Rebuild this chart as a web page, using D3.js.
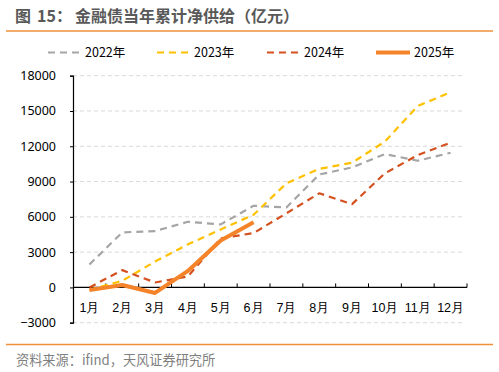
<!DOCTYPE html>
<html><head><meta charset="utf-8">
<script src="https://cdn.jsdelivr.net/npm/d3@7/dist/d3.min.js"></script>
<style>
body{margin:0;background:#fff;}
svg{display:block;font-family:"Noto Sans CJK SC","Noto Sans",sans-serif;}
</style></head><body>
<script>
const months = ["1月","2月","3月","4月","5月","6月","7月","8月","9月","10月","11月","12月"];
const seriesNames = ["2022年","2023年","2024年","2025年"];
const v2022 = [1950,4680,4790,5580,5360,6940,6800,9600,10200,11340,10770,11450];
const v2023 = [-200,560,2200,3660,4930,6180,8850,10080,10600,12400,15420,16600];
const v2024 = [0,1470,420,930,4170,4620,6300,8000,7080,9700,11250,12300];
const v2025 = [-230,200,-470,1400,3990,5530];
const yTicks = [-3000,0,3000,6000,9000,12000,15000,18000];

const W=499,H=372;
const svg=d3.select("body").append("svg").attr("width",W).attr("height",H);

const x=d3.scaleBand().domain(months).range([73,467]);
const y=d3.scaleLinear().domain([-3000,18000]).range([322.7,75.7]);

// title
const t=svg.append("text").attr("y",22).attr("font-size",16).attr("font-weight","bold").attr("fill","#595959");
t.append("tspan").attr("x",15).text("图");
t.append("tspan").attr("x",37).text("15：");
t.append("tspan").attr("x",75).text("金融债当年累计净供给（亿元）");
svg.append("line").attr("x1",6).attr("x2",493).attr("y1",31).attr("y2",31)
  .attr("stroke","#F0913A").attr("stroke-width",1.5);
svg.append("line").attr("x1",6).attr("x2",493).attr("y1",344.5).attr("y2",344.5)
  .attr("stroke","#F0913A").attr("stroke-width",1.5);
svg.append("text").attr("x",16).attr("y",365).attr("font-size",13.2)
  .attr("fill","#7f7f7f").text("资料来源：ifind，天风证券研究所");

// gridlines
svg.append("g").selectAll("line").data(yTicks.filter(d=>d!==0)).join("line")
  .attr("x1",73).attr("x2",465).attr("y1",d=>y(d)).attr("y2",d=>y(d))
  .attr("stroke","#d9d9d9").attr("stroke-width",1).attr("stroke-dasharray","4,3");

// y axis
const ya=svg.append("g").attr("transform","translate(73,0)")
  .call(d3.axisLeft(y).tickValues(yTicks).tickSize(3).tickPadding(14).tickFormat(d3.format("d")));
ya.select(".domain").attr("stroke","#000").attr("stroke-width",1.2);
ya.selectAll(".tick line").attr("stroke","#000");
ya.selectAll("text").attr("font-size",12.5).attr("fill","#000").attr("font-family","\"Noto Sans\",sans-serif");

// x axis at zero
const xa=svg.append("g").attr("transform",`translate(0,${y(0)})`)
  .call(d3.axisBottom(x).tickSize(0).tickPadding(0));
xa.select(".domain").remove();
xa.append("line").attr("x1",73).attr("x2",467).attr("stroke","#000").attr("stroke-width",1.2);
xa.selectAll(".tick text").attr("y",21).attr("dy","0").attr("font-size",12.5).attr("fill","#000")
  .attr("dominant-baseline","middle");
const bounds=months.map(m=>x(m)+x.bandwidth());
xa.append("g").selectAll("line").data(bounds).join("line")
  .attr("x1",d=>d).attr("x2",d=>d).attr("y1",0).attr("y2",-4).attr("stroke","#000");

const cx=m=>x(m)+x.bandwidth()/2;
const line=d3.line().x(d=>cx(d.m)).y(d=>y(d.v));
const mk=arr=>arr.map((v,i)=>({m:months[i],v}));

const styles=[
  {data:v2022,color:"#A5A5A5",w:2.2,dash:"7,5"},
  {data:v2023,color:"#FFC000",w:2.2,dash:"7,5"},
  {data:v2024,color:"#D4501E",w:2.2,dash:"7,5"},
  {data:v2025,color:"#F4832A",w:4,dash:null}
];
styles.forEach(s=>{
  svg.append("path").datum(mk(s.data)).attr("d",line).attr("fill","none")
    .attr("stroke",s.color).attr("stroke-width",s.w).attr("stroke-linejoin","round")
    .attr("stroke-dasharray",s.dash);
});

// legend
const lx=[48,157,267,376];
const lg=svg.append("g");
styles.forEach((s,i)=>{
  lg.append("line").attr("x1",lx[i]).attr("x2",lx[i]+(s.dash?33:34)).attr("y1",52.5).attr("y2",52.5)
    .attr("stroke",s.color).attr("stroke-width",s.dash?2.2:4).attr("stroke-dasharray",s.dash?"7,5":null);
  lg.append("text").attr("x",lx[i]+(s.dash?37:38)).attr("y",57).attr("font-size",12.5).attr("fill","#000")
    .text(seriesNames[i]);
});
</script></body></html>
